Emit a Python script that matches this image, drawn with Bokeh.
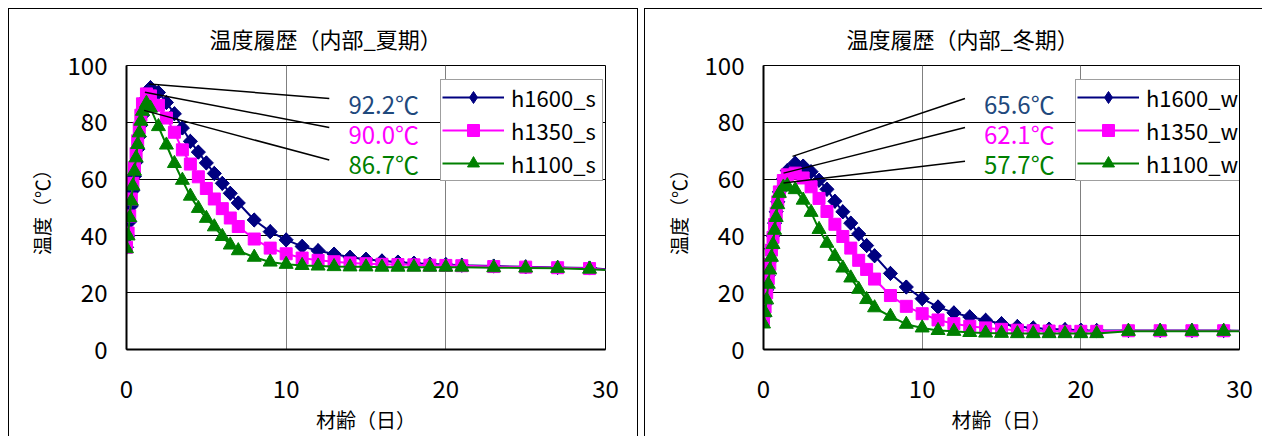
import math
from bokeh.plotting import figure
from bokeh.layouts import row
from bokeh.models import Legend, LegendItem, FixedTicker
from bokeh.embed import file_html
from bokeh.resources import INLINE
from bokeh.core.properties import value

# ---------------- data ----------------
days = [0, 0.1, 0.2, 0.3, 0.4, 0.5, 0.6, 0.7, 0.8, 0.9, 1.0, 1.25, 1.5,
        2.0, 2.5, 3.0, 3.5, 4.0, 4.5, 5.0, 5.5, 6.0, 6.5, 7.0,
        8, 9, 10, 11, 12, 13, 14, 15, 16, 17, 18, 19, 20, 21,
        23, 25, 27, 29, 30.5]

h1600_s = [36, 40, 45, 50.5, 56, 61, 66, 70.5, 75, 79, 82.5, 88.5, 92.2,
           90.5, 87, 83, 78, 73.3, 69.5, 65.7, 62.0, 58.5, 55.0, 51.6,
           45.6, 41.5, 38.6, 36.3, 34.8, 33.6, 32.5, 31.8, 31.2, 30.8, 30.4, 30.1, 29.9, 29.7,
           29.4, 29.1, 28.9, 28.7, 28.0]
h1350_s = [36, 41, 47, 53, 58.5, 64, 69, 73.5, 78, 82.5, 86.5, 90.0, 89.3,
           86, 81.5, 76.5, 70.3, 65.3, 60.8, 56.7, 53.0, 49.6, 46.3, 43.3,
           38.9, 35.7, 33.7, 32.2, 31.4, 30.9, 30.5, 30.2, 30.0, 29.9, 29.8, 29.7, 29.6, 29.5,
           29.2, 29.0, 28.8, 28.5, 27.9]
h1100_s = [35.5, 40, 46.5, 52.3, 57.6, 62.8, 67.5, 72.2, 76.3, 80.4, 83.9, 86.7, 85.0,
           78.5, 72.0, 65.5, 59.6, 54.0, 49.7, 46.2, 43.2, 39.8, 36.8, 34.8,
           32.5, 30.8, 30.0, 29.6, 29.4, 29.2, 29.1, 29.1, 29.0, 29.0, 29.0, 29.0, 29.0, 29.0,
           28.8, 28.7, 28.6, 28.3, 27.9]

h1600_w = [11.5, 16, 21, 26, 31, 35.5, 40, 44.5, 48.5, 52, 55.5, 60, 63,
           65.6, 64.6, 62.6, 59.6, 56.4, 52.2, 48.5, 44.5, 40.7, 36.6, 33.0,
           26.8, 22.0, 17.9, 15.0, 12.9, 11.5, 10.3, 9.1, 8.1, 7.6, 7.2, 7.0, 6.8, 6.7,
           6.7, 6.7, 6.7, 6.7, 6.6]
h1350_w = [10.5, 15, 20, 25, 30, 35, 39.5, 44, 48, 52, 55.5, 59.5, 61.5,
           62.1, 60.4, 57.3, 53.2, 48.6, 44.1, 39.8, 35.7, 31.4, 28.2, 24.8,
           19.0, 15.2, 12.6, 10.4, 9.1, 8.2, 7.6, 7.1, 6.8, 6.6, 6.5, 6.4, 6.4, 6.4,
           6.6, 6.6, 6.6, 6.6, 6.5]
h1100_w = [9, 13, 17.5, 23, 28, 32.5, 37, 42, 46.5, 51, 55, 57.2, 57.7,
           56.3, 52.6, 48.3, 42.3, 37.4, 32.8, 28.7, 25.2, 21.2, 17.6, 14.7,
           11.7, 8.9, 7.6, 6.7, 6.4, 6.0, 5.8, 5.7, 5.6, 5.6, 5.6, 5.6, 5.6, 5.6,
           6.4, 6.4, 6.4, 6.4, 6.4]

x_ticks = [0, 10, 20, 30]
y_ticks = [0, 20, 40, 60, 80, 100]

peak_labels_s = ["92.2℃", "90.0℃", "86.7℃"]
peak_labels_w = ["65.6℃", "62.1℃", "57.7℃"]

# leader lines (peak -> label) and label anchor positions, data units
lead_s = dict(x0=[1.4, 1.15, 1.1], y0=[93.5, 90.6, 84.2], x1=[12.7, 12.7, 12.7], y1=[88.4, 78.2, 66.7])
lead_w = dict(x0=[1.83, 1.26, 1.26], y0=[68.0, 62.1, 58.6], x1=[12.7, 12.7, 12.7], y1=[88.4, 78.2, 66.3])
label_x = [13.9, 13.9, 13.9]
label_y = [86.7, 76.1, 65.6]

FONT = "Noto Sans CJK JP"
NAVY = "#000080"
MAGENTA = "#FF00FF"
GREEN = "#008000"
TEXT_COLORS = ["#1F497D", MAGENTA, GREEN]


def panel(title, names, series, labels, lead, width, mb_left, mb_right, legend_loc, shadow):
    p = figure(width=width, height=428, x_range=(0, 30), y_range=(0, 100),
               output_backend="svg", toolbar_location=None,
               min_border_left=mb_left, min_border_right=mb_right,
               min_border_top=57, min_border_bottom=86,
               title=title)
    p.border_fill_color = None
    p.background_fill_color = "white"
    p.styles = {"box-shadow": shadow, "background": "white"}
    p.outline_line_color = "black"
    p.outline_line_width = 1

    p.title.align = "left"
    p.title.offset = 83
    p.title.text_font = FONT
    p.title.text_font_size = "22px"
    p.title.text_font_style = "normal"
    p.title.text_color = "black"
    p.title.standoff = 23

    p.xaxis.ticker = FixedTicker(ticks=x_ticks)
    p.yaxis.ticker = FixedTicker(ticks=y_ticks)
    for ax in (p.xaxis, p.yaxis):
        ax.major_tick_line_color = None
        ax.minor_tick_line_color = None
        ax.major_tick_out = 0
        ax.major_tick_in = 0
        ax.axis_line_width = 2
        ax.axis_line_color = "black"
        ax.major_label_text_font = FONT
        ax.major_label_text_font_size = "24px"
        ax.major_label_text_color = "black"
        ax.axis_label_text_font = FONT
        ax.axis_label_text_font_style = "normal"
        ax.axis_label_text_color = "black"
    p.xaxis.axis_label = "材齢（日）"
    p.xaxis.axis_label_text_font_size = "20px"
    p.yaxis.axis_label = "温度（℃）"
    p.yaxis.axis_label_text_font_size = "19px"
    p.xaxis.major_label_standoff = 30
    p.xaxis.axis_label_standoff = 4
    p.yaxis.major_label_standoff = 19
    p.yaxis.axis_label_standoff = 10

    p.xgrid.grid_line_color = "#808080"
    p.ygrid.grid_line_color = "black"

    marker_styles = [
        (NAVY, dict(marker="square", angle=math.pi / 4, size=10)),
        (MAGENTA, dict(marker="square", size=12)),
        (GREEN, dict(marker="triangle", size=14)),
    ]
    items = []
    for i, (name, ys, (col, mk)) in enumerate(zip(names, series, marker_styles)):
        lr = p.line(days, ys, line_color=col, line_width=2)
        sr = p.scatter(days, ys, fill_color=col, line_color=col, **mk)
        if i == 0:
            # upright diamond, fully inside the rotated squares; gives the legend a diamond swatch
            sr = p.scatter(days, ys, marker="diamond", size=14, fill_color=col, line_color=col)
        items.append(LegendItem(label=name, renderers=[lr, sr]))

    p.segment(x0=lead["x0"], y0=lead["y0"], x1=lead["x1"], y1=lead["y1"],
              line_color="black", line_width=1.5)
    p.text(x=label_x, y=label_y, text=labels, text_color=TEXT_COLORS,
           text_font=value(FONT), text_font_size="24px",
           text_baseline="middle", text_align="left")

    leg = Legend(items=items, location=legend_loc)
    leg.label_text_font = FONT
    leg.label_text_font_size = "22px"
    leg.label_text_color = "black"
    leg.glyph_width = 62
    leg.glyph_height = 30
    leg.label_height = 30
    leg.label_width = 90
    leg.label_standoff = 7
    leg.padding = 1
    leg.spacing = 1
    leg.margin = 0
    leg.border_line_color = "#404040"
    leg.border_line_width = 1
    leg.background_fill_alpha = 1
    p.add_layout(leg)
    return p


p1 = panel("温度履歴（内部_夏期）", ["h1600_s", "h1350_s", "h1100_s"],
           [h1600_s, h1350_s, h1100_s], peak_labels_s, lead_s,
           width=630, mb_left=118, mb_right=33,
           legend_loc=(314, 168),
           shadow="inset 1px 1px 0 0 #000, inset -1px 0 0 0 #000")
p2 = panel("温度履歴（内部_冬期）", ["h1600_w", "h1350_w", "h1100_w"],
           [h1600_w, h1350_w, h1100_w], peak_labels_w, lead_w,
           width=618, mb_left=119, mb_right=23,
           legend_loc=(312, 168),
           shadow="inset 1px 1px 0 0 #000")

layout = row(p1, p2, spacing=6, margin=(8, 0, 0, 8))
open("out.html", "w").write(file_html(layout, INLINE))
